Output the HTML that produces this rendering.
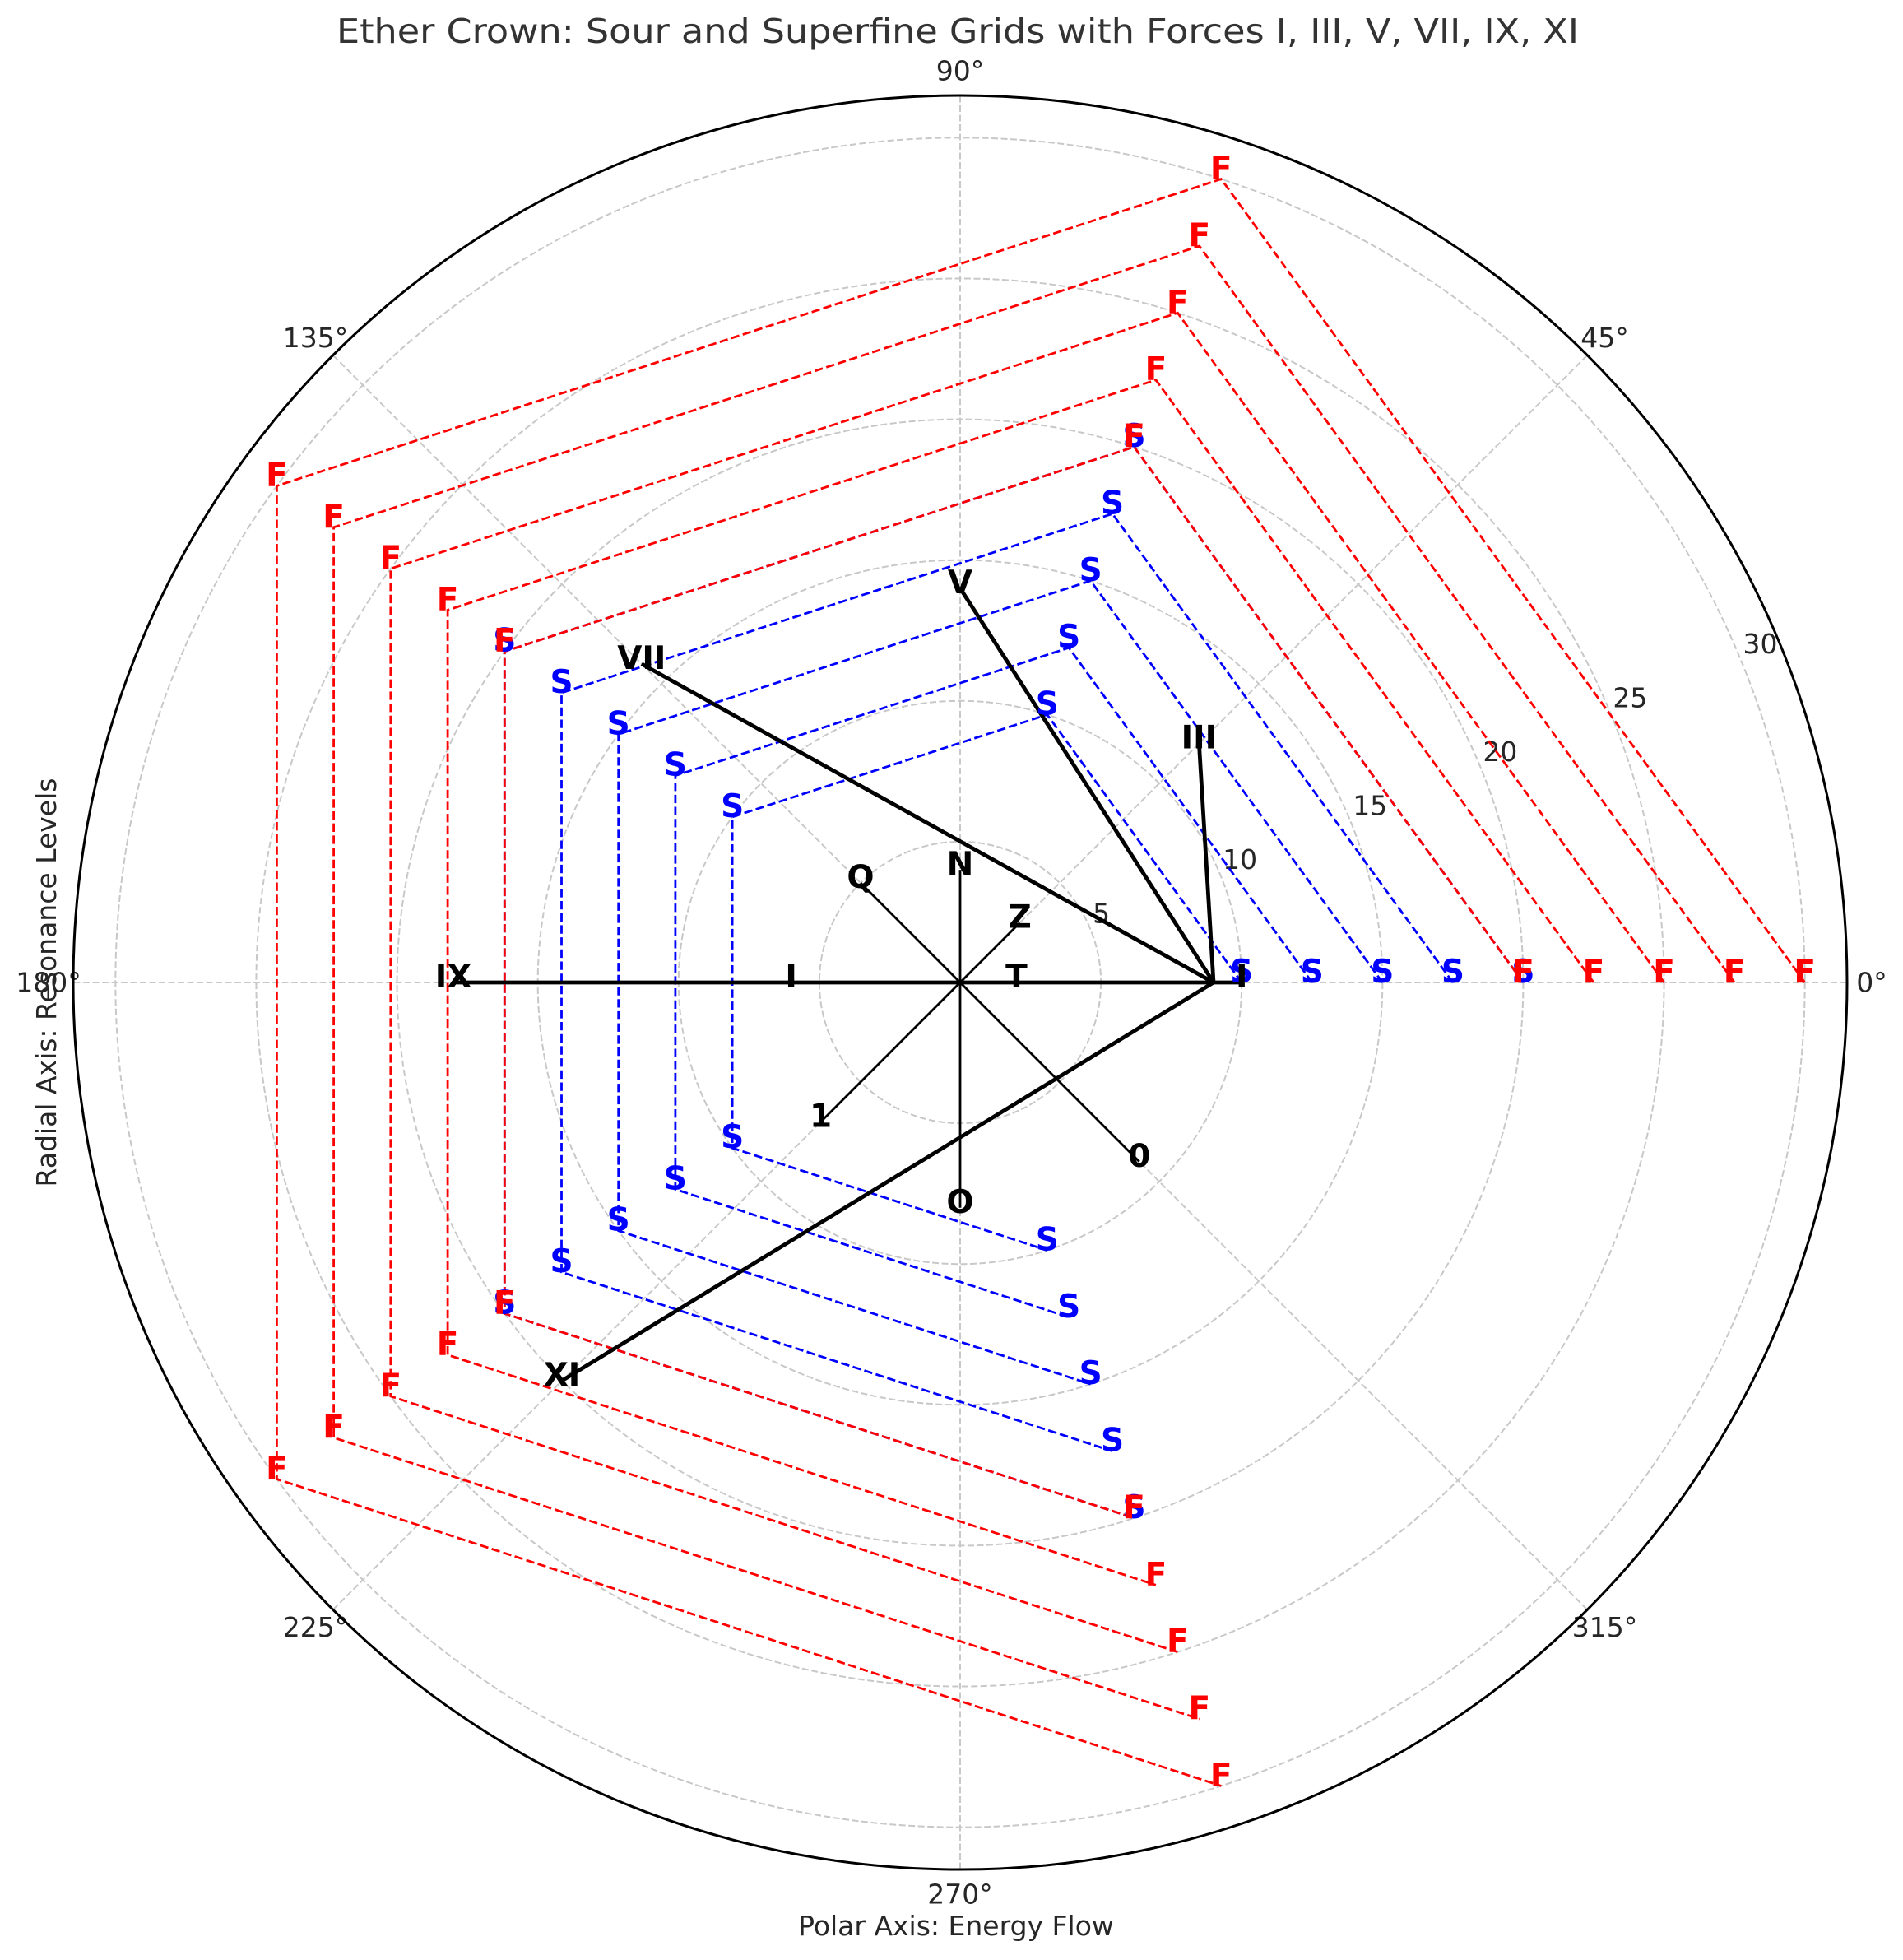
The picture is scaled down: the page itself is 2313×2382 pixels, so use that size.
<!DOCTYPE html>
<html><head><meta charset="utf-8"><style>
html,body{margin:0;padding:0;background:#fff;}
svg{display:block;font-family:"DejaVu Sans","Liberation Sans",sans-serif;}
</style></head><body>
<svg id="chart" width="2313" height="2382" viewBox="0 0 2313 2382" xmlns="http://www.w3.org/2000/svg">
<rect width="2313" height="2382" fill="#fff"/>
<text x="1164" y="52" text-anchor="middle" font-size="41" fill="#333" textLength="1510" lengthAdjust="spacingAndGlyphs">Ether Crown: Sour and Superfine Grids with Forces I, III, V, VII, IX, XI</text>
<text x="1162" y="2352" text-anchor="middle" font-size="33" fill="#262626">Polar Axis: Energy Flow</text>
<text transform="translate(68,1194) rotate(-90)" text-anchor="middle" font-size="33" fill="#262626">Radial Axis: Resonance Levels</text>
<g id="grid"></g>
<g id="polys"></g>
<g id="lines"></g>
<g id="labels"></g>
</svg>
<script>
const rTicks = [5, 10, 15, 20, 25, 30];
const thetaTicks = [0, 45, 90, 135, 180, 225, 270, 315];
const pentagonAngles = [0, 72, 144, 216, 288];
const sourRadii = [10, 12.5, 15, 17.5, 20];
const superfineRadii = [20, 22.5, 25, 27.5, 30];
const hubRadius = 9;
const forceNames = ["I", "III", "V", "VII", "IX", "XI"];
const forceAngles = [0, 45, 90, 135, 180, 225];
const forceRadii = [10, 12, 14, 16, 18, 20];
const glyphNames = ["T", "Z", "N", "Q", "I", "1", "O", "0"];
const glyphAngles = [0, 45, 90, 135, 180, 225, 270, 315];
const glyphRadii = [2, 3, 4, 5, 6, 7, 8, 9];

const CX = 1167, CY = 1194, RMAX = 31.5, RPX = 1078;
const NS = "http://www.w3.org/2000/svg";
function rs(r){ return r / RMAX * RPX; }
function px(t, r){ return CX + rs(r) * Math.cos(t * Math.PI / 180); }
function py(t, r){ return CY - rs(r) * Math.sin(t * Math.PI / 180); }
function mk(tag, attrs, parent){
  const e = document.createElementNS(NS, tag);
  for (const k in attrs) e.setAttribute(k, attrs[k]);
  parent.appendChild(e);
  return e;
}
const grid = document.getElementById('grid');
const polys = document.getElementById('polys');
const lines = document.getElementById('lines');
const labels = document.getElementById('labels');

rTicks.forEach(r => {
  const c = mk('circle', {cx: CX, cy: CY, r: rs(r), fill: 'none', stroke: '#c8c8c8', 'stroke-width': 2, 'stroke-dasharray': '8,3.5'}, grid);
  
  
  const t = mk('text', {x: px(22.5, r) + 3, y: py(22.5, r) - 7, 'font-size': 33, fill: '#262626'}, grid);
  t.textContent = String(r);
  
  
});
thetaTicks.forEach(a => {
  const l = mk('line', {x1: CX, y1: CY, x2: px(a, RMAX), y2: py(a, RMAX), stroke: '#c8c8c8', 'stroke-width': 2, 'stroke-dasharray': '8,3.5'}, grid);
  
  
  const t = mk('text', {x: px(a, RMAX) + 30 * Math.cos(a * Math.PI / 180), y: py(a, RMAX) - 30 * Math.sin(a * Math.PI / 180), 'font-size': 33, fill: '#262626', 'text-anchor': 'middle', 'dominant-baseline': 'central'}, grid);
  t.textContent = a + '°';
  
  
});
const outer = mk('circle', {cx: CX, cy: CY, r: RPX, fill: 'none', stroke: '#000', 'stroke-width': 3}, grid);



function drawPolys(radii, color, letter, kind){
  radii.forEach((r, i) => {
    const pts = pentagonAngles.map(a => px(a, r).toFixed(1) + ',' + py(a, r).toFixed(1)).join(' ');
    const p = mk('polyline', {points: pts, fill: 'none', stroke: color, 'stroke-width': 2.8, 'stroke-dasharray': '10.3,4.4'}, polys);
    
    
    pentagonAngles.forEach(a => {
      const t = mk('text', {x: px(a, r), y: py(a, r), 'font-size': 39, 'font-weight': 'bold', fill: color, 'text-anchor': 'middle'}, labels);
      t.textContent = letter;
      
      
    });
  });
}
drawPolys(sourRadii, '#0000ff', 'S', 'sour');
drawPolys(superfineRadii, '#ff0000', 'F', 'superfine');

glyphNames.forEach((g, i) => {
  const l = mk('line', {x1: CX, y1: CY, x2: px(glyphAngles[i], glyphRadii[i]), y2: py(glyphAngles[i], glyphRadii[i]), stroke: '#000', 'stroke-width': 2.8}, lines);
  
  
  const t = mk('text', {x: px(glyphAngles[i], glyphRadii[i]), y: py(glyphAngles[i], glyphRadii[i]) + 6, 'font-size': 39, 'font-weight': 'bold', fill: '#000', 'text-anchor': 'middle'}, labels);
  t.textContent = g;
  
  
});
forceNames.forEach((f, i) => {
  const l = mk('line', {x1: px(0, hubRadius), y1: py(0, hubRadius), x2: px(forceAngles[i], forceRadii[i]), y2: py(forceAngles[i], forceRadii[i]), stroke: '#000', 'stroke-width': 4.8}, lines);
  
  
  const t = mk('text', {x: px(forceAngles[i], forceRadii[i]), y: py(forceAngles[i], forceRadii[i]) + 6, 'font-size': 39, 'font-weight': 'bold', fill: '#000', 'text-anchor': 'middle'}, labels);
  t.textContent = f;
  
  
});
</script>
</body></html>
